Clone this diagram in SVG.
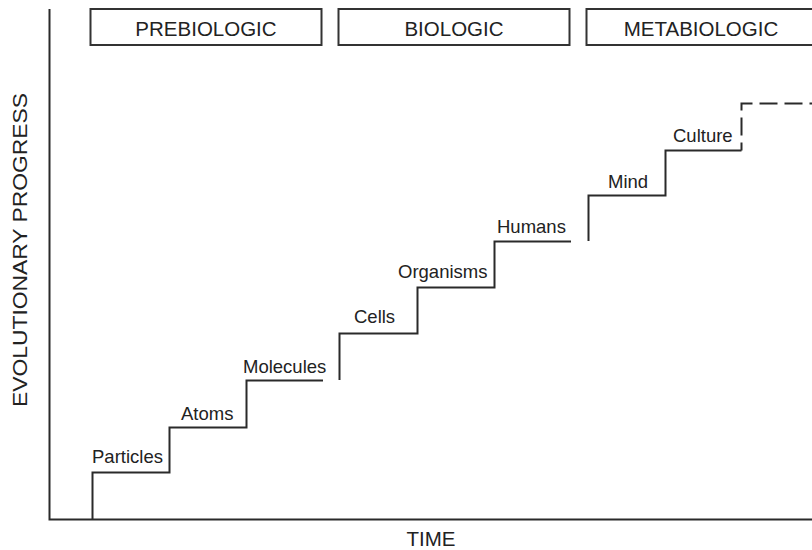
<svg xmlns="http://www.w3.org/2000/svg" width="812" height="550" viewBox="0 0 812 550">
<style>
text { font-family: "Liberation Sans", Arial, sans-serif; fill: #222; }
.lbl { font-size: 18.5px; }
.hdr { font-size: 20.5px; text-anchor: middle; }
.ax { font-size: 20.5px; text-anchor: middle; }
.box { fill: #fff; stroke: #333; stroke-width: 2; }
.line { fill: none; stroke: #2a2a2a; stroke-width: 2; }
.dash { fill: none; stroke: #2a2a2a; stroke-width: 2; stroke-dasharray: 18 7; stroke-dashoffset: 10; }
</style>
<rect width="812" height="550" fill="#fff"/>
<g id="axes">
  <path class="line" d="M49.5,9 V519.5 H812"/>
  <text class="ax" x="431" y="546">TIME</text>
  <text class="ax" transform="translate(27,250) rotate(-90)" textLength="314" lengthAdjust="spacingAndGlyphs">EVOLUTIONARY PROGRESS</text>
</g>
<g id="prebiologic">
  <rect class="box" x="90.5" y="9" width="231" height="36"/>
  <text class="hdr" x="206" y="36">PREBIOLOGIC</text>
</g>
<g id="biologic">
  <rect class="box" x="338.5" y="9" width="231" height="36"/>
  <text class="hdr" x="454" y="36">BIOLOGIC</text>
</g>
<g id="metabiologic">
  <rect class="box" x="586.5" y="9" width="231" height="36"/>
  <text class="hdr" x="701" y="36">METABIOLOGIC</text>
</g>
<g id="connectors">
  <path class="line" d="M92.5,519 V472.5 H169.5 V427.5 H246.5 V380.5 H323"/>
  <path class="line" d="M339.5,380 V333.5 H417.5 V287.5 H494.5 V241.5 H571"/>
  <path class="line" d="M588.5,241 V195.5 H665.5 V150.5 H741.5"/>
  <path class="dash" d="M741.5,150.5 V103.5 H812"/>
</g>
<g id="particles"><text class="lbl" x="92" y="463">Particles</text></g>
<g id="atoms"><text class="lbl" x="181" y="420">Atoms</text></g>
<g id="molecules"><text class="lbl" x="243" y="373">Molecules</text></g>
<g id="cells"><text class="lbl" x="354" y="323">Cells</text></g>
<g id="organisms"><text class="lbl" x="398" y="278">Organisms</text></g>
<g id="humans"><text class="lbl" x="497" y="233">Humans</text></g>
<g id="mind"><text class="lbl" x="608" y="188">Mind</text></g>
<g id="culture"><text class="lbl" x="673" y="142">Culture</text></g>
</svg>
